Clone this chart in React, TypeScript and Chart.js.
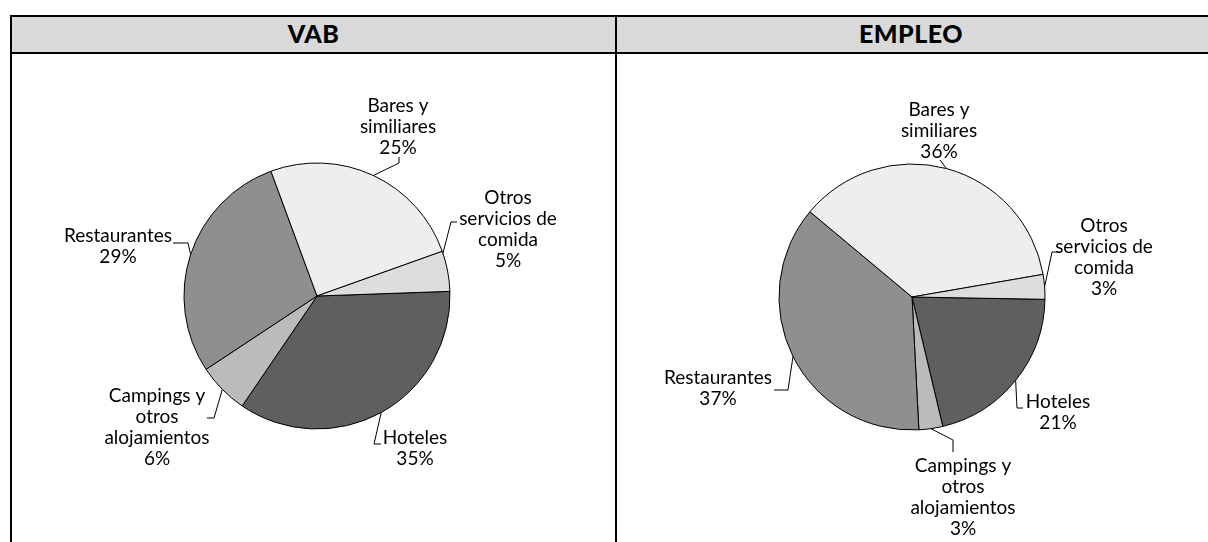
import React, { useEffect, useRef } from 'react';
import { Chart, registerables } from 'chart.js';

Chart.register(...registerables);

// ---------- data ----------
const categories = [
  'Hoteles',
  'Campings y otros alojamientos',
  'Restaurantes',
  'Bares y similiares',
  'Otros servicios de comida',
];
const categoryLines = [
  ['Hoteles'],
  ['Campings y', 'otros', 'alojamientos'],
  ['Restaurantes'],
  ['Bares y', 'similiares'],
  ['Otros', 'servicios de', 'comida'],
];
const vabValues = [35.1, 6.2, 28.7, 25.2, 4.9];
const empleoValues = [21.0, 2.9, 36.9, 36.2, 3.0];
const panelTitles = ['VAB', 'EMPLEO'];

// ---------- styles / layout ----------
const sliceColors = ['#5F5F5F', '#BBBBBB', '#8F8F8F', '#EEEEEE', '#DDDDDD'];
const LABEL_FONT = '19px Lato';
const LINE_H = 21;

type LabelLayout = { dx: number; dy: number; leader: [number, number][]; attach?: number };

const vabLayout: LabelLayout[] = [
  { dx: 98, dy: 148, leader: [[64, 148], [57, 148]] },
  { dx: -160, dy: 106, leader: [[-110, 122], [-103, 122]] },
  { dx: -199, dy: -54, leader: [[-144, -53], [-129, -53]] },
  { dx: 81, dy: -184, leader: [[82, -139], [82, -133]] },
  { dx: 191, dy: -92, leader: [[140, -74], [134, -74]], attach: 0.05 },
];
const empleoLayout: LabelLayout[] = [
  { dx: 146, dy: 111, leader: [[111, 111], [105, 111]] },
  { dx: 51, dy: 175, leader: [[41, 155], [41, 143]] },
  { dx: -194, dy: 87, leader: [[-138, 93], [-124, 93]] },
  { dx: 27, dy: -181, leader: [[28, -137]] },
  { dx: 192, dy: -65, leader: [[149, -45], [140, -45]] },
];

function makeLabelPlugin(layout: LabelLayout[]) {
  return {
    id: 'pieLabels',
    afterDatasetsDraw(chart: any) {
      const meta = chart.getDatasetMeta(0);
      const ctx = chart.ctx as CanvasRenderingContext2D;
      const data = chart.data.datasets[0].data as number[];
      const total = data.reduce((a, b) => a + b, 0);
      ctx.save();
      ctx.font = LABEL_FONT;
      ctx.fillStyle = '#000';
      ctx.strokeStyle = '#000';
      ctx.lineWidth = 1;
      ctx.textAlign = 'center';
      ctx.textBaseline = 'alphabetic';
      meta.data.forEach((arc: any, i: number) => {
        const p = arc.getProps(['x', 'y', 'startAngle', 'endAngle', 'outerRadius'], true);
        const L = layout[i];
        const f = L.attach ?? 0.5;
        const a = p.startAngle + f * (p.endAngle - p.startAngle);
        const ax = p.x + p.outerRadius * Math.cos(a);
        const ay = p.y + p.outerRadius * Math.sin(a);
        ctx.beginPath();
        L.leader.forEach(([dx, dy], j) => {
          if (j === 0) ctx.moveTo(p.x + dx, p.y + dy);
          else ctx.lineTo(p.x + dx, p.y + dy);
        });
        ctx.lineTo(ax, ay);
        ctx.stroke();
        const texts = [...categoryLines[i], Math.round((data[i] / total) * 100) + '%'];
        texts.forEach((t, k) => ctx.fillText(t, p.x + L.dx, p.y + L.dy + k * LINE_H));
      });
      ctx.restore();
    },
  };
}

function PieCanvas(props: {
  values: number[];
  layout: LabelLayout[];
  rotation: number;
  style: React.CSSProperties;
}) {
  const ref = useRef<HTMLCanvasElement>(null);
  useEffect(() => {
    let chart: Chart | null = null;
    let cancelled = false;
    const build = () => {
      if (cancelled || !ref.current) return;
      chart = new Chart(ref.current, {
        type: 'pie',
        data: {
          labels: categories,
          datasets: [
            {
              data: props.values,
              backgroundColor: sliceColors,
              borderColor: '#000',
              borderWidth: 1,
              radius: 133,
            } as any,
          ],
        },
        options: {
          responsive: false,
          animation: false,
          rotation: props.rotation,
          layout: { padding: 0 },
          plugins: { legend: { display: false }, tooltip: { enabled: false } },
          events: [],
        },
        plugins: [makeLabelPlugin(props.layout)],
      });
    };
    const fonts: any = (document as any).fonts;
    if (fonts && fonts.load) {
      fonts.load(LABEL_FONT).then(build, build);
    } else build();
    return () => {
      cancelled = true;
      if (chart) chart.destroy();
    };
  }, []);
  return <canvas ref={ref} width={600} height={480} style={{ position: 'absolute', ...props.style }} />;
}

export default function App() {
  const headerText: React.CSSProperties = {
    position: 'absolute',
    top: 16,
    height: 35,
    lineHeight: '35px',
    textAlign: 'center',
    fontFamily: 'Lato, sans-serif',
    fontWeight: 900,
    fontSize: 25,
    letterSpacing: 0.5,
    color: '#000',
  };
  return (
    <div
      style={{
        position: 'fixed',
        left: 0,
        top: 0,
        width: 1208,
        height: 542,
        overflow: 'hidden',
        background: '#fff',
      }}
    >
      <div
        style={{
          position: 'absolute',
          left: 10,
          top: 15,
          width: 1300,
          height: 39,
          boxSizing: 'border-box',
          background: '#D9D9D9',
          borderTop: '2px solid #000',
          borderBottom: '2px solid #000',
        }}
      />
      <div style={{ position: 'absolute', left: 10, top: 15, width: 2, height: 600, background: '#000' }} />
      <div style={{ position: 'absolute', left: 615, top: 15, width: 2, height: 600, background: '#000' }} />
      <div style={{ ...headerText, left: 12, width: 603 }}>{panelTitles[0]}</div>
      <div style={{ ...headerText, left: 617, width: 588 }}>{panelTitles[1]}</div>
      <PieCanvas values={vabValues} layout={vabLayout} rotation={88} style={{ left: 17, top: 56 }} />
      <PieCanvas values={empleoValues} layout={empleoLayout} rotation={91} style={{ left: 612, top: 57 }} />
    </div>
  );
}
